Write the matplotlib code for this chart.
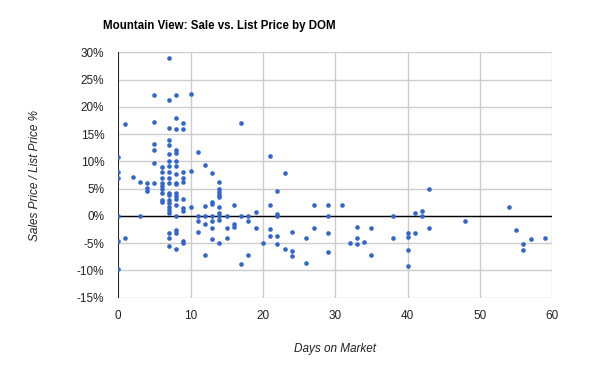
import matplotlib.pyplot as plt
from matplotlib.ticker import MultipleLocator, PercentFormatter

# days on market and sale/list price difference (%)
days = [0, 0, 0, 0, 0, 0,
        1, 1, 2, 3, 3, 4, 4, 4,
        5, 5, 5, 5, 5, 5,
        6, 6, 6, 6, 6, 6, 6, 6, 6,
        7, 7, 7, 7, 7, 7, 7, 7, 7, 7, 7, 7, 7, 7, 7, 7, 7, 7, 7, 7, 7,
        8, 8, 8, 8, 8, 8, 8, 8, 8, 8, 8, 8, 8, 8, 8, 8, 8, 8,
        9, 9, 9, 9, 9, 9, 9, 9, 9, 9,
        10, 10, 10, 11, 11, 11, 11,
        12, 12, 12, 12, 12,
        13, 13, 13, 13, 13, 13, 13,
        14, 14, 14, 14, 14, 14, 14, 14, 14, 14,
        15, 15, 15, 16, 16, 16, 17, 17, 17, 18, 18, 18, 19, 19, 20,
        21, 21, 21, 21, 22, 22, 22, 22, 22, 23, 23, 24, 24, 24,
        26, 26, 27, 27, 29, 29, 29, 29, 31, 32, 33, 33, 33, 34, 35, 35,
        38, 38, 40, 40, 40, 40, 41, 41, 42, 42, 43, 43, 48,
        54, 55, 56, 56, 57, 59]
pct = [10.8, 8.0, 7.0, 0.0, -4.6, -9.7,
       16.9, -4.1, 7.2, 6.3, 0.0, 6.0, 5.1, 4.6,
       22.1, 17.3, 13.1, 12.0, 9.7, 6.0,
       9.0, 8.1, 7.0, 6.0, 5.4, 5.0, 4.2, 3.0, 2.5,
       29.0, 21.3, 16.2, 14.0, 13.0, 11.3, 10.0, 9.2, 8.0, 7.0, 6.0, 4.2, 3.8, 3.0, 2.4, 1.7, 1.0, 0.5, -3.1, -4.1, -5.5,
       22.1, 18.0, 16.0, 12.1, 11.5, 10.0, 9.2, 7.7, 6.0, 5.8, 4.2, 3.7, 3.1, 2.0, 0.0, -2.6, -3.1, -6.1,
       17.0, 15.9, 8.0, 7.0, 6.2, 3.1, 1.4, 0.9, -4.6, -5.0,
       22.3, 8.3, 1.7, 11.8, 0.0, -1.0, -2.9,
       9.4, 1.9, 0.0, -1.5, -7.2,
       7.9, 2.5, 2.1, 0.0, -1.0, -2.3, -4.3,
       6.2, 5.0, 4.3, 3.9, 3.5, 1.7, 0.6, 0.0, -0.8, -5.0,
       0.0, -2.3, -4.1, 2.0, -1.4, -2.0, 17.0, 0.0, -8.9, 0.0, -0.9, -7.1, 0.7, -2.3, -5.0,
       11.0, 2.0, -2.4, -3.7, 4.6, 0.3, 0.0, -3.6, -5.2, 7.8, -6.1, -3.0, -6.4, -7.4,
       -4.0, -8.6, 2.0, -2.3, 2.0, 0.0, -3.1, -6.6, 2.0, -5.0, -2.0, -4.1, -5.1, -4.8, -2.3, -7.1,
       0.0, -4.1, -3.1, -3.8, -6.2, -9.1, 0.5, -3.1, 0.9, 0.0, 5.0, -2.2, -0.9,
       1.7, -2.6, -5.1, -6.2, -4.2, -4.1]

plt.rcParams['font.family'] = ['Liberation Sans', 'DejaVu Sans']
plt.rcParams['axes.unicode_minus'] = False

fig = plt.figure(figsize=(6, 3.71), dpi=100)
ax = fig.add_axes([0.197, 0.1976, 0.7235, 0.6614])

ax.scatter(days, pct, s=11, color='#3366cc', zorder=3, linewidths=0)

ax.set_xlim(0, 60)
ax.set_ylim(-15, 30)
ax.xaxis.set_major_locator(MultipleLocator(10))
ax.yaxis.set_major_locator(MultipleLocator(5))
ax.yaxis.set_major_formatter(PercentFormatter(decimals=0))
ax.grid(True, color='#cccccc', linewidth=1)
ax.set_axisbelow(True)
for s in ax.spines.values():
  s.set_visible(False)
ax.axhline(0, color='black', linewidth=1, zorder=2)
ax.axvline(0, color='black', linewidth=1.2, zorder=2)
ax.tick_params(length=0, labelsize=8.5, colors='#222222')
ax.tick_params(axis='y', pad=10)
ax.tick_params(axis='x', pad=9)

ax.set_xlabel('Days on Market', fontsize=8.5, style='italic', color='#222222', labelpad=15)
ax.set_ylabel('Sales Price / List Price %', fontsize=8.5, style='italic', color='#222222', labelpad=26)
fig.text(0.172, 0.93, 'Mountain View: Sale vs. List Price by DOM', fontsize=8.3,
         fontweight='bold', ha='left', va='center', color='black')

fig.savefig('out.png', dpi=100)
